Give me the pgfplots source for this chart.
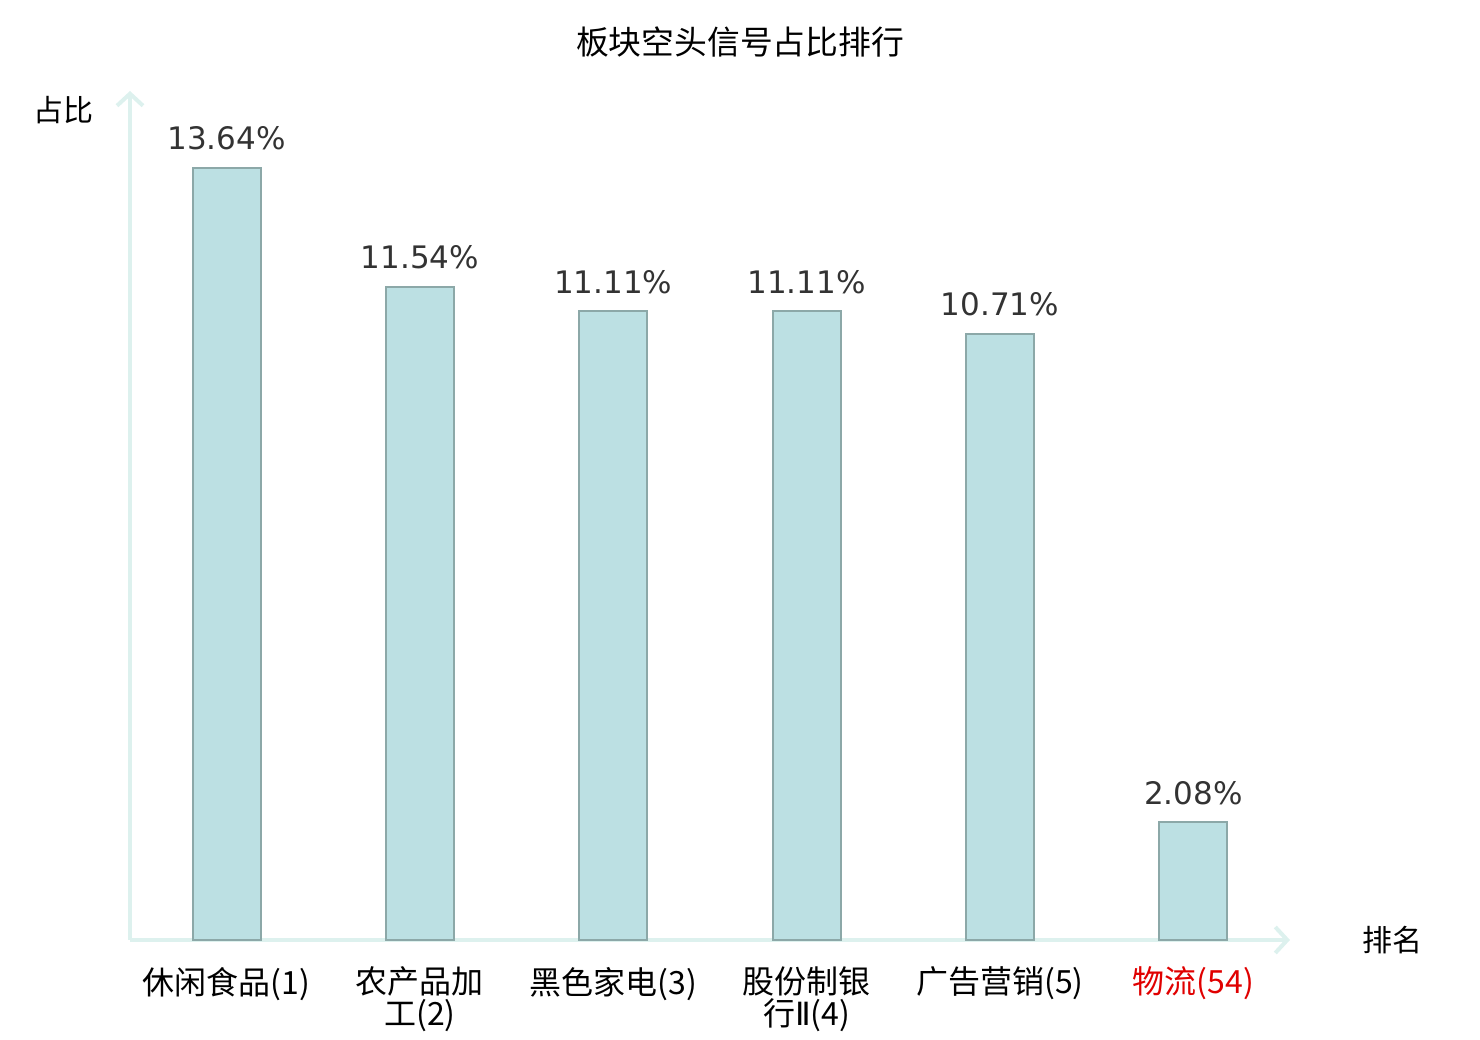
\documentclass[border=0pt]{standalone}
\usepackage{pgfplots}
\pgfplotsset{compat=1.18}
\usepackage{fontspec}
\setmainfont{Noto Sans CJK SC}
\newfontfamily\dejavu{DejaVu Sans}
\usetikzlibrary{arrows.meta}
\definecolor{barfill}{HTML}{BCE0E3}
\definecolor{bardraw}{HTML}{8CA8A8}
\definecolor{axiscol}{HTML}{DDF1EE}
\definecolor{valcol}{HTML}{333333}
\definecolor{redlab}{HTML}{E00000}
\begin{document}
\begin{tikzpicture}
\path[use as bounding box] (0,0) rectangle (740pt,520pt);
\begin{axis}[
  at={(65pt,50pt)}, anchor=south west,
  scale only axis, width=580pt, height=424.5pt,
  xmin=-0.5, xmax=5.5, ymin=0, ymax=15,
  axis lines=left,
  axis line style={draw=axiscol, line width=2pt, -{Straight Barb[length=6pt,width=13pt,line width=2pt]}},
  ytick=\empty,
  xtick={0,1,2,3,4,5},
  xticklabels={休闲食品(1), 农产品加\\工(2), 黑色家电(3), 股份制银\\行{\dejavu Ⅱ}(4), 广告营销(5), \textcolor{redlab}{物流(54)}},
  xticklabel style={font=\fontsize{16}{16}\selectfont, align=center, anchor=north, yshift=-10pt, text=black},
  major tick length=0pt,
  ybar, bar width=34pt,
  nodes near coords={\pgfmathprintnumber[fixed,fixed zerofill,precision=2]{\pgfplotspointmeta}\%},
  nodes near coords style={font=\dejavu\fontsize{15.5}{16}\selectfont, text=valcol, /pgf/number format/assume math mode=true, yshift=5pt},
  clip=false,
]
\addplot[fill=barfill, draw=bardraw, line width=1pt] coordinates {(0,13.64) (1,11.54) (2,11.11) (3,11.11) (4,10.71) (5,2.08)};
\end{axis}
\node[font=\fontsize{16.4}{17}\selectfont] at (370pt,499pt) {板块空头信号占比排行};
\node[font=\fontsize{15}{15}\selectfont] at (31.5pt,465pt) {占比};
\node[font=\fontsize{15}{15}\selectfont] at (696pt,50pt) {排名};
\end{tikzpicture}
\end{document}
